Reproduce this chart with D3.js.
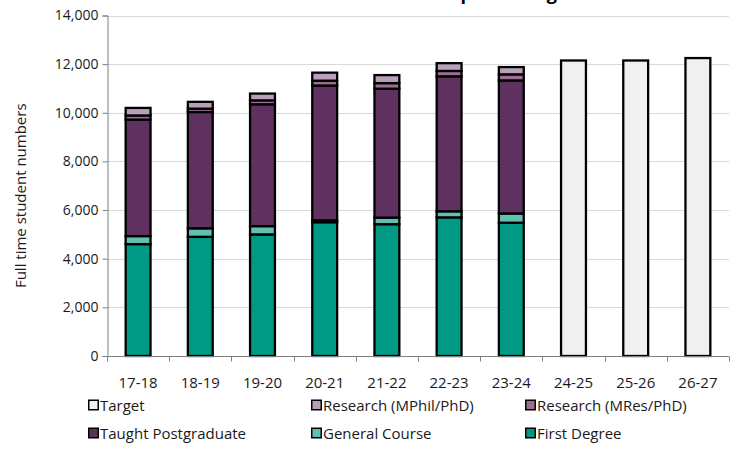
<!DOCTYPE html>
<html>
<head>
<meta charset="utf-8">
<script src="https://cdn.jsdelivr.net/npm/d3@7"></script>
<style>
  html, body { margin: 0; padding: 0; background: #fff; }
  svg { display: block; font-family: "Open Sans", Lato, sans-serif; }
</style>
</head>
<body>
<svg id="chart" width="736" height="457"></svg>
<script>
// Academic years on the category axis
const years = ["17-18", "18-19", "19-20", "20-21", "21-22", "22-23", "23-24", "24-25", "25-26", "26-27"];

// Enrolment by programme type (actuals, 17-18 to 23-24)
const firstDegree   = [4600, 4900, 5000, 5500, 5420, 5700, 5480, 0, 0, 0];
const generalCourse = [330, 350, 340, 80, 270, 250, 380, 0, 0, 0];
const taughtPG      = [4790, 4780, 5010, 5540, 5300, 5550, 5470, 0, 0, 0];
const researchMRes  = [170, 140, 160, 200, 230, 220, 250, 0, 0, 0];
const researchMPhil = [310, 280, 280, 330, 330, 320, 300, 0, 0, 0];
// Plan targets for future years
const target        = [0, 0, 0, 0, 0, 0, 0, 12150, 12150, 12250];

const yTicks = [0, 2000, 4000, 6000, 8000, 10000, 12000, 14000];

const seriesNames = ["First Degree", "General Course", "Taught Postgraduate",
                     "Research (MRes/PhD)", "Research (MPhil/PhD)", "Target"];
const seriesValues = [firstDegree, generalCourse, taughtPG, researchMRes, researchMPhil, target];
const colors = {
  "First Degree": "#009984",
  "General Course": "#62c0b1",
  "Taught Postgraduate": "#5f3160",
  "Research (MRes/PhD)": "#9a6f92",
  "Research (MPhil/PhD)": "#b9a0b9",
  "Target": "#f0f0f0"
};

const svg = d3.select("#chart");
const plotLeft = 107, plotRight = 729, plotTop = 15.5, plotBottom = 356;

const x = d3.scaleBand().domain(years).range([plotLeft, plotRight]).paddingInner(0.6).paddingOuter(0.3);
const y = d3.scaleLinear().domain([0, 14000]).range([plotBottom, plotTop]);

// Title (sits at the very top edge)
svg.append("text")
  .attr("x", 372).attr("y", 0)
  .attr("text-anchor", "middle")
  .attr("font-weight", "bold").attr("font-size", 18)
  .attr("fill", "#000")
  .text("Full Time Student enrolment and plan v targets");

// Gridlines
svg.append("g")
  .selectAll("line").data(yTicks.filter(d => d > 0)).join("line")
  .attr("x1", plotLeft).attr("x2", plotRight)
  .attr("y1", d => Math.round(y(d)) + 0.5).attr("y2", d => Math.round(y(d)) + 0.5)
  .attr("stroke", "#d9d9d9").attr("stroke-width", 1.2);

// Stacked bars
const table = years.map((yr, i) => {
  const row = { year: yr };
  seriesNames.forEach((n, k) => row[n] = seriesValues[k][i]);
  return row;
});
const stack = d3.stack().keys(seriesNames)(table);

svg.append("g").selectAll("g").data(stack).join("g")
  .attr("fill", d => colors[d.key])
  .selectAll("rect").data(d => d.filter(p => p[1] - p[0] > 0)).join("rect")
  .attr("x", d => x(d.data.year))
  .attr("width", x.bandwidth())
  .attr("y", d => y(d[1]))
  .attr("height", d => y(d[0]) - y(d[1]))
  .attr("stroke", "#000").attr("stroke-width", 2.3);

// Y axis
const yAxis = d3.axisLeft(y).tickValues(yTicks).tickSize(5).tickPadding(4)
  .tickFormat(d3.format(","));
const gy = svg.append("g").attr("transform", `translate(${plotLeft + 0.5},0)`).call(yAxis);
gy.select(".domain").attr("stroke", "#7f7f7f");
gy.selectAll(".tick line").attr("stroke", "#7f7f7f");
gy.selectAll(".tick text").attr("font-size", 14).attr("fill", "#1a1a1a")
  .attr("font-family", "'Open Sans', sans-serif");

// X axis: ticks between categories
const gx = svg.append("g").attr("transform", `translate(0,${plotBottom + 0.5})`);
gx.append("line").attr("x1", plotLeft).attr("x2", plotRight).attr("y1", 0).attr("y2", 0)
  .attr("stroke", "#7f7f7f");
const boundaries = d3.range(years.length + 1).map(i => plotLeft + i * (plotRight - plotLeft) / years.length);
gx.selectAll("line.tk").data(boundaries).join("line").attr("class", "tk")
  .attr("x1", d => Math.round(d) + 0.5).attr("x2", d => Math.round(d) + 0.5)
  .attr("y1", 0).attr("y2", 5).attr("stroke", "#7f7f7f");
gx.selectAll("text").data(years).join("text")
  .attr("x", d => x(d) + x.bandwidth() / 2)
  .attr("y", 31)
  .attr("text-anchor", "middle").attr("font-size", 15).attr("fill", "#1a1a1a")
  .text(d => d);

// Y axis title
svg.append("text")
  .attr("transform", `translate(26,${(plotTop + plotBottom) / 2 + 10}) rotate(-90)`)
  .attr("text-anchor", "middle").attr("font-size", 15).attr("fill", "#1a1a1a")
  .text("Full time student numbers");

// Legend
const legendOrder = ["Target", "Research (MPhil/PhD)", "Research (MRes/PhD)",
                     "Taught Postgraduate", "General Course", "First Degree"];
const colX = [88, 311, 525], rowY = [405, 433];
const lg = svg.append("g").selectAll("g").data(legendOrder).join("g")
  .attr("transform", (d, i) => `translate(${colX[i % 3]},${rowY[Math.floor(i / 3)]})`);
lg.append("rect").attr("x", 0.75).attr("y", -4.75).attr("width", 9.5).attr("height", 9.5)
  .attr("fill", d => colors[d]).attr("stroke", "#000").attr("stroke-width", 1.5);
lg.append("text").attr("x", 12).attr("y", 5.5)
  .attr("font-size", 15).attr("fill", "#1a1a1a").text(d => d);
</script>
</body>
</html>
